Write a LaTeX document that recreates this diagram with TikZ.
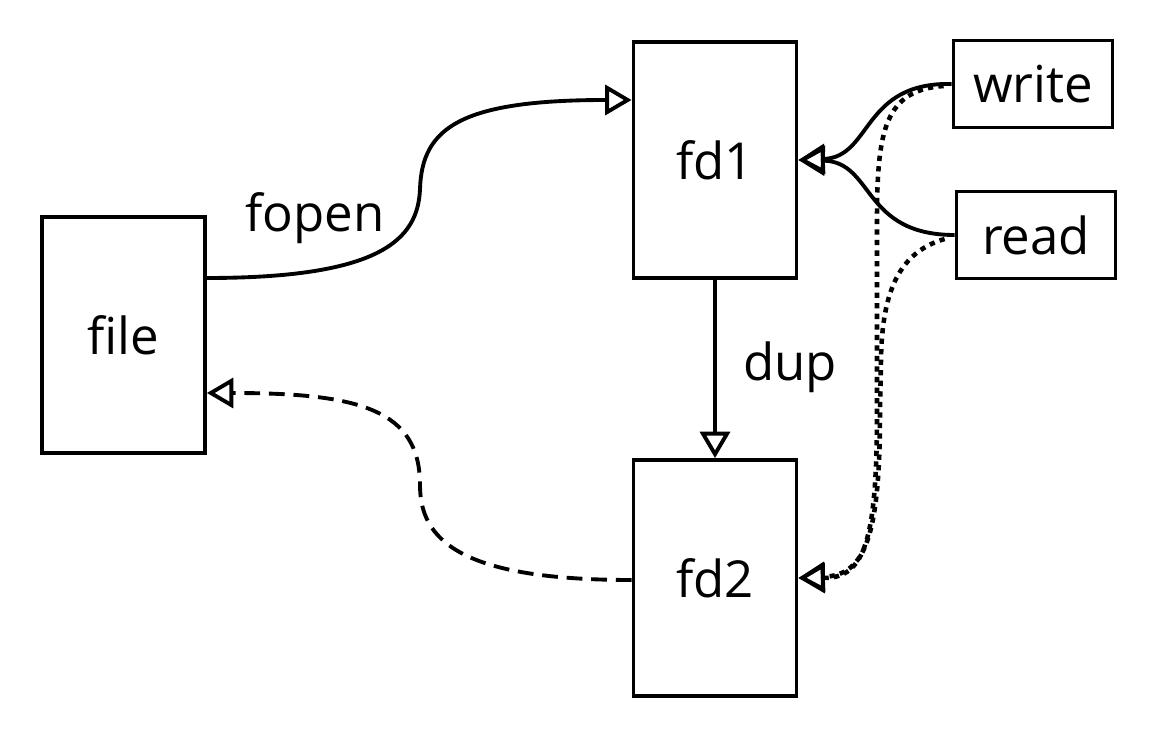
\documentclass[tikz,border=0pt]{standalone}
\usepackage{fontspec}
\setmainfont{Open Sans}
\usetikzlibrary{arrows.meta,calc}
\tikzset{
  box/.style   ={draw=black, line width=2.2pt, fill=white,
                 font=\fontsize{29}{34}\selectfont},
  tall/.style  ={box, minimum width=3.26cm, minimum height=4.72cm},
  small/.style ={box, minimum width=3.18cm, minimum height=1.74cm},
  lbl/.style   ={font=\fontsize{29}{34}\selectfont},
  tip/.style   ={-{Triangle[open, length=15pt, width=17pt, line width=2.2pt]}},
  con/.style   ={tip, line width=2.2pt},
  dsh/.style   ={con, dash pattern=on 9pt off 5pt},
  dot/.style   ={con, line width=2.6pt, dash pattern=on 3pt off 3pt},
}

\begin{document}
\begin{tikzpicture}[x=0.02cm,y=0.02cm]
  \useasboundingbox (0,0) rectangle (1160,740);

  % ---------------------------------------------------------------- boxes
  \node[tall]  (file)  at (123.5,405) {file};
  \node[tall]  (fd1)   at (715,580)   {fd1};
  \node[tall]  (fd2)   at (715,162)   {fd2};
  \node[small] (write) at (1033,656)  {write};
  \node[small] (read)  at (1036,505)  {read};

  % ---------------------------------------------------------------- labels
  \node[lbl] (lfopen) at (315,522) {fopen};
  \node[lbl] (ldup)   at (790,373) {dup};

  % ---------------------------------------------------------------- solid
  \draw[con] ($(file.east)+(0,57)$) .. controls (380,462) and (418,500) .. (420,551)
             .. controls (422,612) and (460,640) .. ($(fd1.west)+(0,60)$);
  \draw[con] (fd1.south) -- (fd2.north);
  \draw[con] (write.west) .. controls (862,658) and (872,583) .. (fd1.east);
  \draw[con] (read.west) .. controls (862,505) and (874,578) .. (fd1.east);

  % ---------------------------------------------------------------- dotted
  \draw[dot] ($(write.west)+(-8,-2)$) .. controls (885,650) and (877,610) .. (877,520)
             -- (877,330) .. controls (877,200) and (865,162) .. (fd2.east);
  \draw[dot] ($(read.west)+(-10,-4)$) .. controls (900,488) and (882,450) .. (881,380)
             -- (880,330) .. controls (880,205) and (866,165) .. (fd2.east);

  % ---------------------------------------------------------------- dashed
  \draw[dsh] ($(fd2.west)+(0,-2)$) .. controls (460,160) and (420,200) .. (420,255)
             .. controls (420,330) and (360,347) .. ($(file.east)+(0,-58)$);
\end{tikzpicture}
\end{document}
